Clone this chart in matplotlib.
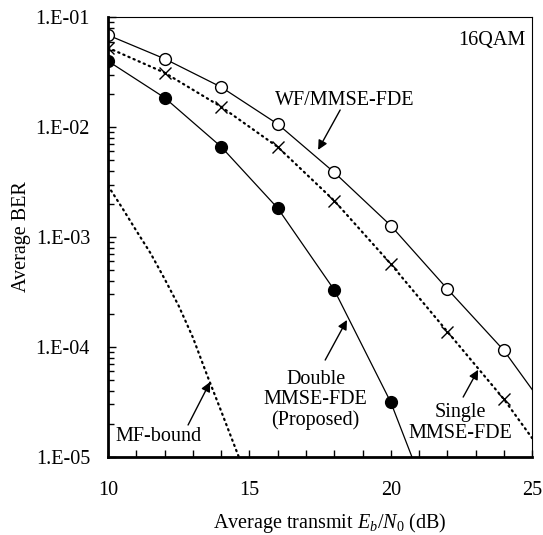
import numpy as np
import matplotlib
matplotlib.use('Agg')
from matplotlib import pyplot as plt
from matplotlib.ticker import MultipleLocator, LogLocator, FuncFormatter, NullFormatter

plt.rcParams['font.family'] = ['Liberation Serif', 'DejaVu Serif']
plt.rcParams['mathtext.fontset'] = 'custom'
plt.rcParams['mathtext.rm'] = 'Liberation Serif'
plt.rcParams['mathtext.it'] = 'Liberation Serif:italic'

# data
# WF/MMSE-FDE (open circles), line runs on to the right edge
wf_x = [10, 12, 14, 16, 18, 20, 22, 24, 25]
wf_ber = [0.0686, 0.0418, 0.0231, 0.01065, 0.00387, 0.00127, 0.000337, 9.3e-5, 4.1e-5]

# Single MMSE-FDE (crosses, dotted)
single_x = [10, 12, 14, 16, 18, 20, 22, 24, 25]
single_ber = [0.0526, 0.0312, 0.0153, 0.0066, 0.00214, 0.000569, 0.000138, 3.35e-5, 1.48e-5]

# Double MMSE-FDE (proposed, filled circles)
double_x = [10, 12, 14, 16, 18, 20, 21]
double_ber = [0.0398, 0.0185, 0.00662, 0.00183, 0.00033, 3.14e-5, 6.8e-6]

# MF bound (dotted curve)
mf_x = [10, 10.5, 11, 11.5, 12, 12.5, 13, 13.5, 14, 14.5, 15]
mf_ber = [2.92e-3, 1.84e-3, 1.14e-3, 7.14e-4, 4.16e-4, 2.36e-4, 1.22e-4, 5.56e-5,
          2.61e-5, 1.21e-5, 5.6e-6]

fs = 14.5

fig = plt.figure(figsize=(5.43, 5.35), dpi=100)
ax = fig.add_axes([0.199, 0.146, 0.781, 0.822])

dots = (0, (0.6, 1.9))

# plot curves
ax.plot(wf_x, wf_ber, '-', color='black', lw=0.9, marker='o', ms=8.5,
        mfc='white', mec='black', mew=1.0, markevery=list(range(8)))
ax.plot(single_x, single_ber, color='black', lw=1.6, ls=dots,
        dash_capstyle='round', marker='x', ms=8, mew=1.0, markevery=list(range(8)))
ax.plot(double_x, double_ber, '-', color='black', lw=0.9, marker='o', ms=8.5,
        mfc='black', mec='black', markevery=list(range(6)))
ax.plot(mf_x, mf_ber, color='black', lw=1.6, ls=dots, dash_capstyle='round')

ax.set_yscale('log')
ax.set_xlim(10, 25)
ax.set_ylim(1e-5, 1e-1)

# ticks
ax.xaxis.set_major_locator(MultipleLocator(5))
ax.xaxis.set_minor_locator(MultipleLocator(1))
ax.yaxis.set_major_locator(LogLocator(base=10, numticks=10))
ax.yaxis.set_minor_locator(LogLocator(base=10, subs=np.arange(2, 10), numticks=10))
ax.yaxis.set_minor_formatter(NullFormatter())
ax.yaxis.set_major_formatter(FuncFormatter(lambda v, p: '1.E-%02d' % round(-np.log10(v))))
ax.tick_params(axis='both', which='both', direction='in', labelsize=fs, color='black')
ax.tick_params(axis='y', which='major', length=6, width=1.0, pad=13)
ax.tick_params(axis='y', which='minor', length=4, width=1.0)
ax.tick_params(axis='x', which='both', length=5, width=1.0, pad=17)

for s in ['left', 'bottom']:
    ax.spines[s].set_linewidth(2.0)
for s in ['top', 'right']:
    ax.spines[s].set_linewidth(0.8)

ax.set_ylabel('Average BER', fontsize=fs, labelpad=3.5)
ax.set_xlabel(r'Average transmit $E_b/N_0$ (dB)', fontsize=fs)
ax.xaxis.set_label_coords(0.522, -0.122)

# annotations
ax.text(24.75, 0.0618, '16QAM', fontsize=fs, ha='right', va='center')

arrow = dict(arrowstyle='-|>', color='black', lw=1.0, mutation_scale=14, shrinkA=0, shrinkB=0)

ax.text(18.38, 0.0176, 'WF/MMSE-FDE', fontsize=fs, ha='center', va='center')
ax.annotate('', xy=(17.43, 0.0062), xytext=(18.21, 0.0143), arrowprops=arrow)

ax.text(17.34, 3.3e-5, 'Double\nMMSE-FDE\n(Proposed)', fontsize=fs, ha='center', va='center',
        linespacing=1.1)
ax.annotate('', xy=(18.45, 1.76e-4), xytext=(17.68, 7.6e-5), arrowprops=arrow)

ax.text(22.45, 2.04e-5, 'Single\nMMSE-FDE', fontsize=fs, ha='center', va='center',
        linespacing=1.1)
ax.annotate('', xy=(23.09, 6.2e-5), xytext=(22.56, 3.5e-5), arrowprops=arrow)

ax.text(11.77, 1.52e-5, 'MF-bound', fontsize=fs, ha='center', va='center')
ax.annotate('', xy=(13.61, 4.8e-5), xytext=(12.83, 1.95e-5), arrowprops=arrow)

fig.savefig('out.png', dpi=100)
